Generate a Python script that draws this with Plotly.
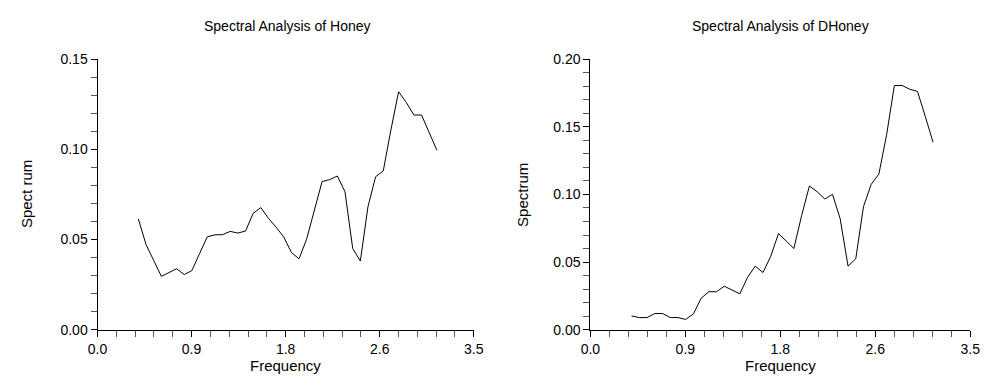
import plotly.graph_objects as go

# Frequencies (shared by both panels)
frequency = [0.380, 0.451, 0.522, 0.594, 0.665, 0.736, 0.807, 0.878, 0.950, 1.021,
             1.092, 1.163, 1.234, 1.306, 1.377, 1.448, 1.519, 1.590, 1.662, 1.733,
             1.804, 1.875, 1.946, 2.018, 2.089, 2.160, 2.231, 2.302, 2.374, 2.445,
             2.516, 2.587, 2.658, 2.730, 2.801, 2.872, 2.943, 3.014, 3.086, 3.157]

spectrum_honey = [0.0614, 0.0473, 0.0385, 0.0296, 0.0317, 0.0338, 0.0306, 0.0328, 0.0423, 0.0515,
                  0.0526, 0.0527, 0.0545, 0.0536, 0.0547, 0.0645, 0.0677, 0.0618, 0.0568, 0.0513,
                  0.0428, 0.0393, 0.0504, 0.0658, 0.0821, 0.0832, 0.0852, 0.0765, 0.0450, 0.0381,
                  0.0682, 0.0848, 0.0880, 0.1110, 0.1319, 0.1260, 0.1190, 0.1190, 0.1092, 0.0995]

spectrum_dhoney = [0.0102, 0.0090, 0.0090, 0.0120, 0.0120, 0.0090, 0.0090, 0.0076, 0.0118, 0.0234,
                   0.0281, 0.0281, 0.0322, 0.0293, 0.0265, 0.0387, 0.0470, 0.0423, 0.0543, 0.0711,
                   0.0654, 0.0600, 0.0843, 0.1062, 0.1020, 0.0966, 0.1001, 0.0819, 0.0470, 0.0524,
                   0.0909, 0.1074, 0.1150, 0.1444, 0.1805, 0.1805, 0.1777, 0.1761, 0.1575, 0.1386]

x_tickvals = [0, 0.875, 1.75, 2.625, 3.5]
x_ticktext = ["0.0", "0.9", "1.8", "2.6", "3.5"]

titles = ["Spectral Analysis of Honey", "Spectral Analysis of DHoney"]
y_titles = ["Spect rum", "Spectrum"]

W, H = 993, 385
FONT = "Liberation Sans, Arial, sans-serif"

fig = go.Figure()
fig.add_trace(go.Scatter(x=frequency, y=spectrum_honey, mode="lines",
                         line=dict(color="black", width=1), xaxis="x", yaxis="y",
                         showlegend=False, hoverinfo="skip"))
fig.add_trace(go.Scatter(x=frequency, y=spectrum_dhoney, mode="lines",
                         line=dict(color="black", width=1), xaxis="x2", yaxis="y2",
                         showlegend=False, hoverinfo="skip"))

ydom = [(H - 335.7) / H, (H - 53.3) / H]
xdom1 = [89.3 / W, 473.3 / W]
xdom2 = [592.3 / W, 980.0 / W]

common_x = dict(range=[0, 3.5], tickmode="array", tickvals=x_tickvals, ticktext=x_ticktext,
                showline=True, linecolor="black", linewidth=1, ticks="outside", ticklen=6,
                tickcolor="black", tickwidth=1, showgrid=False, zeroline=False,
                tickfont=dict(family=FONT, size=14, color="black"),
                minor=dict(tick0=0, dtick=0.175, ticks="outside", ticklen=6,
                           tickcolor="#555555", tickwidth=1, showgrid=False),
                fixedrange=True)
common_y = dict(showline=True, linecolor="black", linewidth=1, ticks="outside", ticklen=6,
                tickcolor="black", tickwidth=1, showgrid=False, zeroline=False,
                tickformat=".2f", dtick=0.05, tick0=0,
                tickfont=dict(family=FONT, size=14, color="black"),
                minor=dict(dtick=0.01, ticks="outside", ticklen=6,
                           tickcolor="#555555", tickwidth=1, showgrid=False),
                fixedrange=True)

fig.update_layout(
    width=W, height=H,
    margin=dict(l=0, r=0, t=0, b=0),
    paper_bgcolor="white", plot_bgcolor="white",
    font=dict(family=FONT, color="black"),
    xaxis=dict(domain=xdom1, anchor="y", **common_x),
    yaxis=dict(domain=ydom, anchor="x", range=[0, 0.15], **common_y),
    xaxis2=dict(domain=xdom2, anchor="y2", **common_x),
    yaxis2=dict(domain=ydom, anchor="x2", range=[0, 0.20], **common_y),
)

annots = []
for cx, t in zip([283 / W, 786 / W], titles):
    annots.append(dict(text=t, x=cx, y=(H - 19) / H, xref="paper", yref="paper",
                       showarrow=False, xanchor="center", yanchor="middle",
                       font=dict(family=FONT, size=14, color="black")))
for cx in [(89.3 + 473.3) / 2 / W, (592.3 + 980) / 2 / W]:
    annots.append(dict(text="Frequency", x=cx, y=(H - 373) / H, xref="paper", yref="paper",
                       showarrow=False, xanchor="center", yanchor="middle",
                       font=dict(family=FONT, size=15, color="black")))
for cx, t in zip([17 / W, 523 / W], y_titles):
    annots.append(dict(text=t, x=cx, y=(H - 194.5) / H, xref="paper", yref="paper",
                       showarrow=False, xanchor="center", yanchor="middle", textangle=-90,
                       font=dict(family=FONT, size=15, color="black")))
fig.update_layout(annotations=annots)

fig.write_html("out.html")
